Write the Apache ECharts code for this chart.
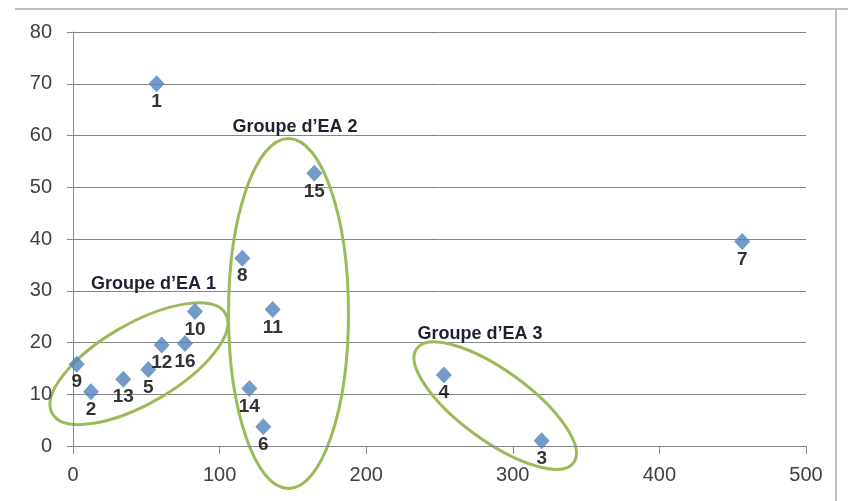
<!DOCTYPE html>
<html><head><meta charset="utf-8">
<script src="https://cdn.jsdelivr.net/npm/echarts@6/dist/echarts.min.js"></script>
<style>html,body{margin:0;padding:0;background:#fff}#c{width:848px;height:501px}</style>
</head><body><div id="c"></div>
<script>
var pointIds = ['1','2','3','4','5','6','7','8','9','10','11','12','13','14','15','16'];
var xValues = [57, 12.3, 319.7, 253, 51.4, 129.8, 456.5, 115.5, 2.5, 83.2, 136.2, 60.5, 34.3, 120.3, 164.6, 76.4];
var yValues = [70, 10.5, 1.0, 13.7, 14.8, 3.7, 39.5, 36.3, 15.8, 26.0, 26.4, 19.5, 12.9, 11.1, 52.7, 19.8];
var xTicks = [0, 100, 200, 300, 400, 500];
var yTicks = [0, 10, 20, 30, 40, 50, 60, 70, 80];
var groupNames = ["Groupe d\u2019EA 1", "Groupe d\u2019EA 2", "Groupe d\u2019EA 3"];
var groupLabelAt = [[54.9, 31.3], [151.4, 61.6], [277.6, 21.6]];
var groupCenter = [[45, 15.9], [147, 25.6], [288, 7.8]];

var chart = echarts.init(document.getElementById('c'));
var data = pointIds.map(function (id, i) { return { name: id, value: [xValues[i], yValues[i]] }; });
var axisFont = { color: '#404040', fontSize: 20, fontFamily: 'Liberation Sans, Arial, sans-serif' };
chart.setOption({
  animation: false,
  grid: { left: 73, right: 42, top: 32, bottom: 55, containLabel: false },
  xAxis: {
    type: 'value', min: xTicks[0], max: xTicks[xTicks.length - 1], interval: 100,
    axisLine: { lineStyle: { color: '#868686' } },
    axisTick: { show: true, length: 8, lineStyle: { color: '#868686' } },
    axisLabel: Object.assign({ margin: 19 }, axisFont),
    splitLine: { show: false }
  },
  yAxis: {
    type: 'value', min: yTicks[0], max: yTicks[yTicks.length - 1], interval: 10,
    axisLine: { show: true, lineStyle: { color: '#868686' } },
    axisTick: { show: true, length: 6, lineStyle: { color: '#868686' } },
    axisLabel: Object.assign({ margin: 21 }, axisFont),
    splitLine: { show: true, lineStyle: { color: '#868686', width: 1 } }
  },
  series: [{
    type: 'scatter', symbol: 'diamond', symbolSize: [16, 17],
    itemStyle: { color: '#4F81BD' },
    label: { show: true, position: 'bottom', distance: 0, formatter: '{b}', color: '#000', fontSize: 19, fontWeight: 'bold', fontFamily: 'Liberation Sans, Arial, sans-serif' },
    data: data
  }]
});

function px(p) { return chart.convertToPixel({ gridIndex: 0 }, p); }
var ellipseSpec = [
  { rx: 100, ry: 40, rot: 30 },
  { rx: 60, ry: 175, rot: 0 },
  { rx: 97, ry: 35, rot: -36 }
];
var graphics = [
  { type: 'line', shape: { x1: 15, y1: 9, x2: 848, y2: 9 }, style: { stroke: '#bfbfbf', lineWidth: 2 }, silent: true },
  { type: 'line', shape: { x1: 836, y1: 9, x2: 836, y2: 501 }, style: { stroke: '#bfbfbf', lineWidth: 2 }, silent: true }
];
groupCenter.forEach(function (c, i) {
  var p = px(c);
  graphics.push({ type: 'ellipse', x: p[0], y: p[1], rotation: ellipseSpec[i].rot * Math.PI / 180,
    shape: { cx: 0, cy: 0, rx: ellipseSpec[i].rx, ry: ellipseSpec[i].ry },
    style: { fill: 'none', stroke: '#9BBB59', lineWidth: 3 }, silent: true });
});
groupLabelAt.forEach(function (c, i) {
  var p = px(c);
  graphics.push({ type: 'text', x: p[0], y: p[1],
    style: { text: groupNames[i], fill: '#1c2230', font: 'bold 18px Liberation Sans, Arial, sans-serif', textAlign: 'center', textVerticalAlign: 'middle' }, silent: true });
});
chart.setOption({ graphic: graphics });
</script></body></html>
